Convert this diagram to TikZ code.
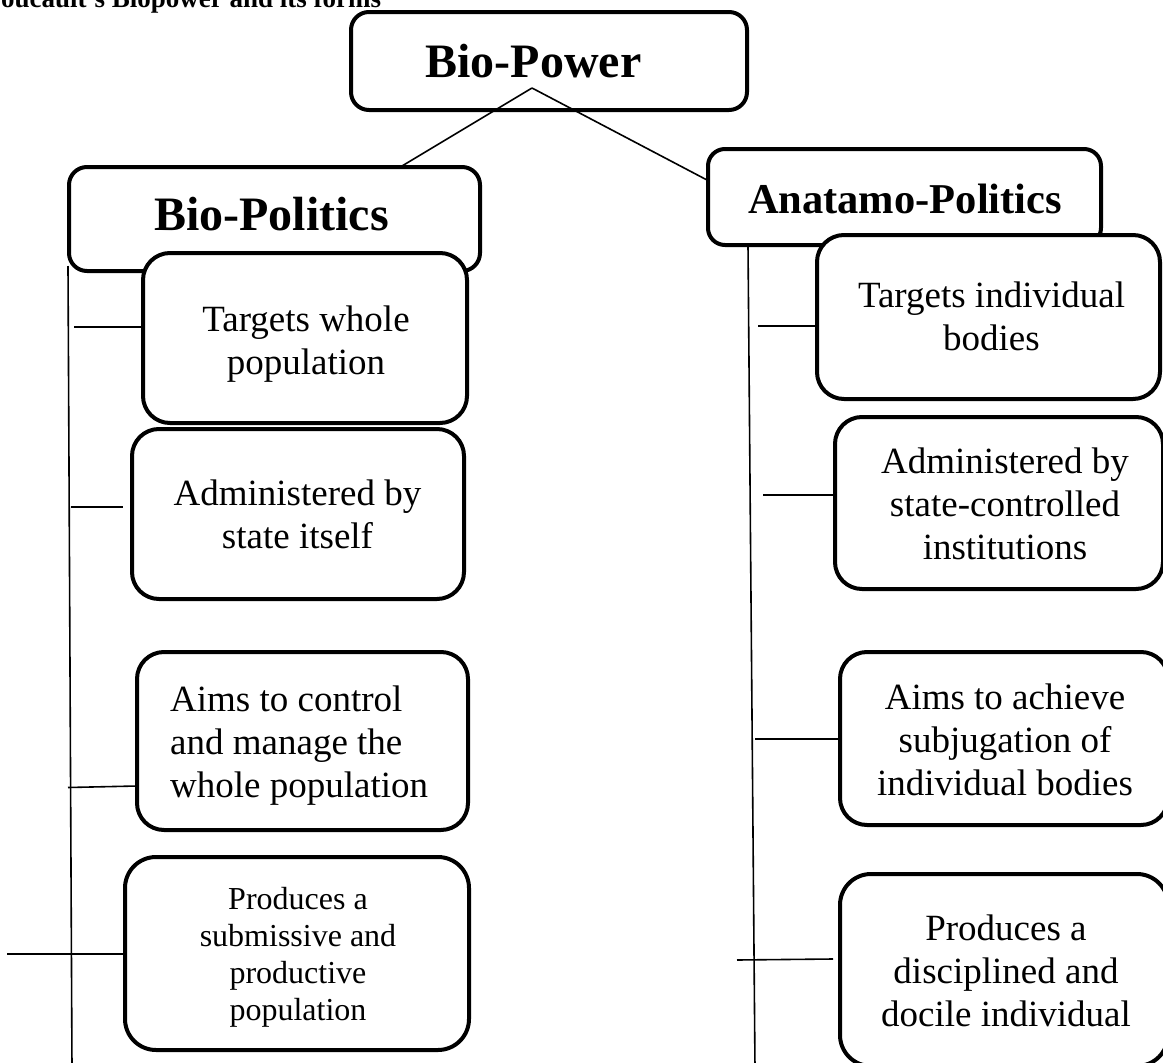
\documentclass[tikz,border=0pt]{standalone}
\usepackage{fontspec}
\setmainfont{Liberation Serif}
\begin{document}
\begin{tikzpicture}[x=1pt,y=-1pt,
  box/.style={draw, line width=4pt, fill=white, rounded corners=#1, inner sep=0pt},
  box/.default=27pt,
  conn/.style={line width=1.6pt},
  head/.style={inner sep=0pt, anchor=base, font=\bfseries\fontsize{48}{55}\selectfont},
  txt/.style={inner sep=0pt, align=center, anchor=north, font=\fontsize{37}{43}\selectfont},
  smalltxt/.style={inner sep=0pt, align=center, anchor=north, font=\fontsize{32}{37}\selectfont}
]
\useasboundingbox (0,0) rectangle (1163,1063);

% title (cut by the page edge)
\node[anchor=base west, inner sep=0pt, font=\bfseries\fontsize{27}{31}\selectfont] (title) at (-15.5,7.5) {Foucault’s Biopower and its forms};

% top box
\node[box=18pt, minimum width=396pt, minimum height=98pt] (bp) at (549,61) {};
\node[head] (bpT) at (533.5,77) {Bio-Power};

% links from top box
\coordinate (apex) at (532,88);
\coordinate (bpolTop) at (402,166);
\coordinate (apLeft) at (707,180);
\draw[conn] (apex) -- (bpolTop);
\draw[conn] (apex) -- (apLeft);

% second level boxes
\node[box=18pt, minimum width=411pt, minimum height=104pt] (bpol) at (274.5,219) {};
\node[head] (bpolT) at (271.5,230) {Bio-Politics};
\node[box=17pt, minimum width=393pt, minimum height=96pt] (ap) at (904.5,197) {};
\node[head, font=\bfseries\fontsize{42.5}{49}\selectfont] (apT) at (905,213) {Anatamo-Politics};

% left spine and branches
\coordinate (lTop) at (68,266);
\coordinate (lBot) at (72,1068);
\draw[conn] (lTop) -- (lBot);
\coordinate (l1a) at (74,327);   \coordinate (l1b) at (143,327);
\coordinate (l2a) at (71,507);   \coordinate (l2b) at (123,507);
\coordinate (l3a) at (68,787.5); \coordinate (l3b) at (137,786);
\coordinate (l4a) at (7,954);    \coordinate (l4b) at (123,954);
\draw[conn] (l1a) -- (l1b);
\draw[conn] (l2a) -- (l2b);
\draw[conn] (l3a) -- (l3b);
\draw[conn] (l4a) -- (l4b);

% right spine and branches
\coordinate (rTop) at (748,245);
\coordinate (rBot) at (755,1068);
\draw[conn] (rTop) -- (rBot);
\coordinate (r1a) at (758,326);  \coordinate (r1b) at (817,326);
\coordinate (r2a) at (763,495);  \coordinate (r2b) at (835,495);
\coordinate (r3a) at (755,739);  \coordinate (r3b) at (840,739);
\coordinate (r4a) at (737,960);  \coordinate (r4b) at (833,959);
\draw[conn] (r1a) -- (r1b);
\draw[conn] (r2a) -- (r2b);
\draw[conn] (r3a) -- (r3b);
\draw[conn] (r4a) -- (r4b);

% left boxes
\node[box, minimum width=324pt, minimum height=170pt] (la) at (305,338) {};
\node[txt] (laT) at (306,305.7) {Targets whole\\population};
\node[box, minimum width=332pt, minimum height=170pt] (lb) at (298,514) {};
\node[txt] (lbT) at (297.5,479.7) {Administered by\\state itself};
\node[box, minimum width=331pt, minimum height=178pt] (lc) at (302.5,741) {};
\node[txt, align=left, anchor=north west] (lcT) at (170,685.7) {Aims to control\\and manage the\\whole population};
\node[box=31pt, minimum width=344pt, minimum height=193pt] (ld) at (297,953.5) {};
\node[smalltxt] (ldT) at (298,887.1) {Produces a\\submissive and\\productive\\population};

% right boxes
\node[box, minimum width=343pt, minimum height=164pt] (ra) at (988.5,317) {};
\node[txt] (raT) at (991.5,281.7) {Targets individual\\bodies};
\node[box, minimum width=328pt, minimum height=172pt] (rb) at (999,503) {};
\node[txt] (rbT) at (1005,447.7) {Administered by\\state-controlled\\institutions};
\node[box, minimum width=328pt, minimum height=173pt] (rc) at (1004,738.5) {};
\node[txt] (rcT) at (1005,683.7) {Aims to achieve\\subjugation of\\individual bodies};
\node[box=31pt, minimum width=328pt, minimum height=192pt] (rd) at (1004,970) {};
\node[txt] (rdT) at (1006,914.7) {Produces a\\disciplined and\\docile individual};
\end{tikzpicture}
\end{document}
